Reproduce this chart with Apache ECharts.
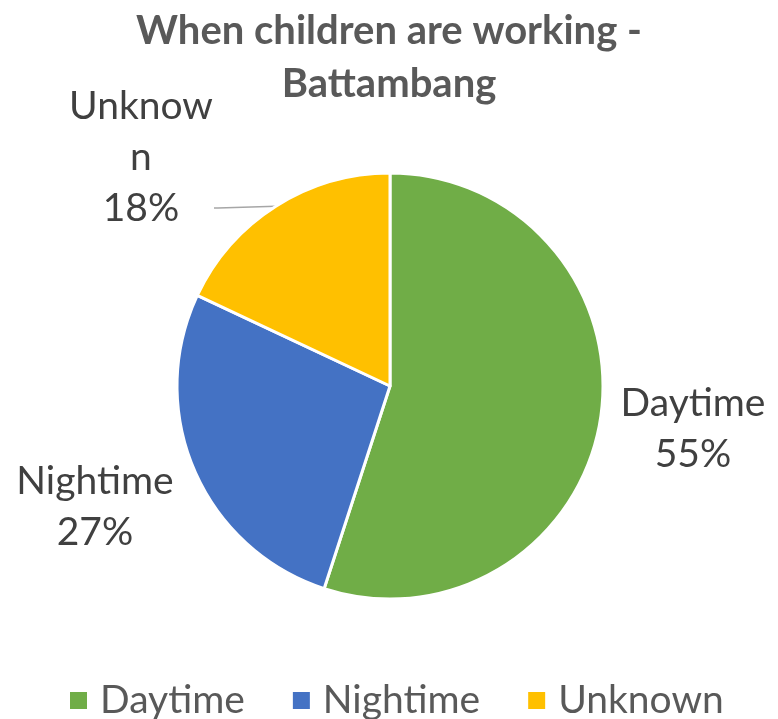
<!DOCTYPE html>
<html>
<head>
<meta charset="utf-8">
<script src="https://cdn.jsdelivr.net/npm/echarts@6/dist/echarts.min.js"></script>
<style>
  html, body { margin: 0; padding: 0; background: #fff; }
  #chart { width: 778px; height: 719px; }
</style>
</head>
<body>
<div id="chart"></div>
<script>
// Share of children working by time of day, Battambang
const categories = ['Daytime', 'Nightime', 'Unknown'];
const shares = [55, 27, 18];
const sliceColors = ['#70AD47', '#4472C4', '#FFC000'];
const titleText = 'When children are working -\nBattambang';

// Where each slice label sits (anchor point, in pixels)
const labelAnchors = [
  { x: 693, y: 429 },
  { x: 95, y: 507 },
  { x: 141, y: 208 }
];

const FONT = 'Lato, "Open Sans", sans-serif';

const chart = echarts.init(document.getElementById('chart'), null, { renderer: 'canvas' });

const pieData = categories.map((name, i) => ({
  name: name,
  value: shares[i],
  itemStyle: { color: sliceColors[i] },
  labelLine: { show: name === 'Unknown' },
  // the wrapped label carries empty rows below so its leader line meets the percentage row
  label: name === 'Unknown'
    ? { width: 146, overflow: 'break', formatter: '{b}\n{d}%\n\n\n' }
    : {}
}));

chart.setOption({
  animation: false,
  backgroundColor: '#ffffff',
  title: {
    text: titleText,
    left: 'center',
    top: 0,
    textStyle: {
      fontFamily: FONT,
      fontWeight: 'bold',
      fontSize: 40,
      lineHeight: 53,
      color: '#595959'
    }
  },
  legend: {
    bottom: -6,
    left: 63,
    icon: 'rect',
    itemWidth: 19,
    itemHeight: 19,
    itemGap: 46,
    textStyle: {
      fontFamily: FONT,
      fontSize: 39,
      color: '#595959',
      padding: [0, 0, 0, 7]
    },
    data: categories
  },
  series: [{
    type: 'pie',
    center: [390, 386],
    radius: 213,
    startAngle: 90,
    clockwise: true,
    data: pieData,
    itemStyle: { borderColor: '#ffffff', borderWidth: 3 },
    label: {
      show: true,
      position: 'outside',
      formatter: '{b}\n{d}%',
      fontFamily: FONT,
      fontSize: 39,
      lineHeight: 51,
      color: '#404040',
      align: 'center'
    },
    labelLine: {
      show: true,
      length: 8,
      length2: 4,
      lineStyle: { color: '#a6a6a6', width: 1.5 }
    },
    labelLayout: function (params) {
      const a = labelAnchors[params.dataIndex];
      return { x: a.x, y: a.y, align: 'center', verticalAlign: 'middle' };
    },
    emphasis: { disabled: true }
  }]
});
</script>
</body>
</html>
